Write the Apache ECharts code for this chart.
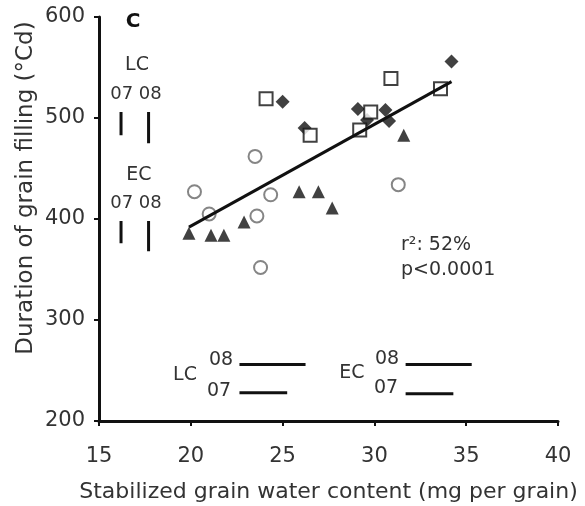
<!DOCTYPE html>
<html>
<head>
<meta charset="utf-8">
<style>
  html, body { margin: 0; padding: 0; background: #fff; }
  #chart { width: 585px; height: 506px; }
</style>
<script src="https://cdn.jsdelivr.net/npm/echarts@6/dist/echarts.min.js"></script>
</head>
<body>
<div id="chart"></div>
<script>
// Stabilized grain water content (mg per grain) vs duration of grain filling (°Cd)
const circlePts = [[20.2, 427], [21.0, 405], [23.5, 462], [23.6, 403], [23.8, 352], [24.35, 424], [31.3, 434]];
const trianglePts = [[19.9, 386], [21.1, 384], [21.8, 384], [22.9, 397], [25.9, 427], [26.95, 427], [27.7, 411], [31.6, 483]];
const squarePts = [[24.1, 519], [26.5, 483], [29.2, 488], [29.8, 506], [30.9, 539], [33.6, 529]];
const diamondPts = [[25.0, 516], [26.2, 490], [29.1, 509], [29.6, 498], [30.6, 508], [30.8, 497], [34.2, 556]];

// fitted regression line end points
const fitX = [19.9, 34.2];
const fitY = [392, 536];

// LSD bars (07, 08)
const lcDurationLSD = [23, 31];
const ecDurationLSD = [22, 30];
const lcWaterLSD = [2.6, 3.6];
const ecWaterLSD = [2.6, 3.6];

const xTicks = [15, 20, 25, 30, 35, 40];
const yTicks = [200, 300, 400, 500, 600];

const FONT = 'DejaVu Sans';
const TXT = '#333';

function segment(a, b) {
  return {
    type: 'line', data: [a, b], symbol: 'none', silent: true, z: 4,
    lineStyle: { color: '#111', width: 3 }
  };
}

// vertical LSD bars (duration), hung from a top anchor
const vBars = [
  segment([16.2, 506], [16.2, 506 - lcDurationLSD[0]]),
  segment([17.7, 506], [17.7, 506 - lcDurationLSD[1]]),
  segment([16.2, 398], [16.2, 398 - ecDurationLSD[0]]),
  segment([17.7, 398], [17.7, 398 - ecDurationLSD[1]])
];
// horizontal LSD bars (water content), drawn from a left anchor
const hBars = [
  segment([22.65, 256], [22.65 + lcWaterLSD[1], 256]),
  segment([22.65, 228], [22.65 + lcWaterLSD[0], 228]),
  segment([31.7, 256], [31.7 + ecWaterLSD[1], 256]),
  segment([31.7, 227], [31.7 + ecWaterLSD[0], 227])
];

function txt(x, y, s, opt) {
  return {
    type: 'text', x: x, y: y,
    style: Object.assign({ text: s, font: '19px "' + FONT + '"', fill: TXT, textAlign: 'center', textVerticalAlign: 'middle' }, opt || {})
  };
}

const chart = echarts.init(document.getElementById('chart'), null, { renderer: 'canvas' });
chart.setOption({
  animation: false,
  backgroundColor: '#fff',
  grid: { left: 99, right: 27, top: 17, bottom: 85, outerBoundsMode: 'none', containLabel: false },
  xAxis: {
    type: 'value', min: xTicks[0], max: xTicks[xTicks.length - 1], interval: 5,
    name: 'Stabilized grain water content (mg per grain)',
    nameLocation: 'middle', nameGap: 60,
    nameTextStyle: { fontFamily: FONT, fontSize: 22, color: TXT },
    axisLine: { lineStyle: { color: '#111', width: 3 } },
    axisTick: { length: 5, lineStyle: { color: '#111', width: 2 } },
    axisLabel: { margin: 25, fontFamily: FONT, fontSize: 21, color: TXT },
    splitLine: { show: false }
  },
  yAxis: {
    type: 'value', min: yTicks[0], max: yTicks[yTicks.length - 1], interval: 100,
    axisLine: { lineStyle: { color: '#111', width: 3 } },
    axisTick: { length: 5, lineStyle: { color: '#111', width: 2 } },
    axisLabel: { margin: 14, fontFamily: FONT, fontSize: 21, color: TXT },
    splitLine: { show: false }
  },
  graphic: [
    {
      type: 'text', x: 26, y: 188, rotation: Math.PI / 2,
      style: { text: 'Duration of grain filling (°Cd)', font: '23px "' + FONT + '"', fill: TXT, textAlign: 'center', textVerticalAlign: 'middle' }
    },
    txt(133, 22, 'C', { font: 'bold 20px "' + FONT + '"', fill: '#111' }),
    txt(137, 65, 'LC'),
    txt(136, 94, '07 08', { font: '18px "' + FONT + '"' }),
    txt(139, 175, 'EC'),
    txt(136, 203, '07 08', { font: '18px "' + FONT + '"' }),
    txt(185, 375, 'LC'),
    txt(221, 360, '08'),
    txt(219, 391, '07'),
    txt(352, 373, 'EC'),
    txt(387, 359, '08'),
    txt(386, 388, '07'),
    txt(401, 245, 'r²: 52%', { textAlign: 'left' }),
    txt(401, 270, 'p<0.0001', { textAlign: 'left' })
  ],
  series: [
    {
      type: 'scatter', data: circlePts, symbol: 'circle', symbolSize: 13, z: 2,
      itemStyle: { color: '#fff', borderColor: '#666', borderWidth: 2 }
    },
    {
      type: 'scatter', data: trianglePts, symbol: 'triangle', symbolSize: 13, z: 2,
      itemStyle: { color: '#111' }
    },
    {
      type: 'scatter', data: diamondPts, symbol: 'diamond', symbolSize: 14, z: 2,
      itemStyle: { color: '#111' }
    },
    {
      type: 'scatter', data: squarePts, symbol: 'rect', symbolSize: 13, z: 3,
      itemStyle: { color: '#fff', borderColor: '#111', borderWidth: 2 }
    },
    {
      type: 'line', data: fitX.map((x, i) => [x, fitY[i]]), symbol: 'none', z: 5,
      lineStyle: { color: '#111', width: 3 }
    }
  ].concat(vBars, hBars)
});
</script>
</body>
</html>
